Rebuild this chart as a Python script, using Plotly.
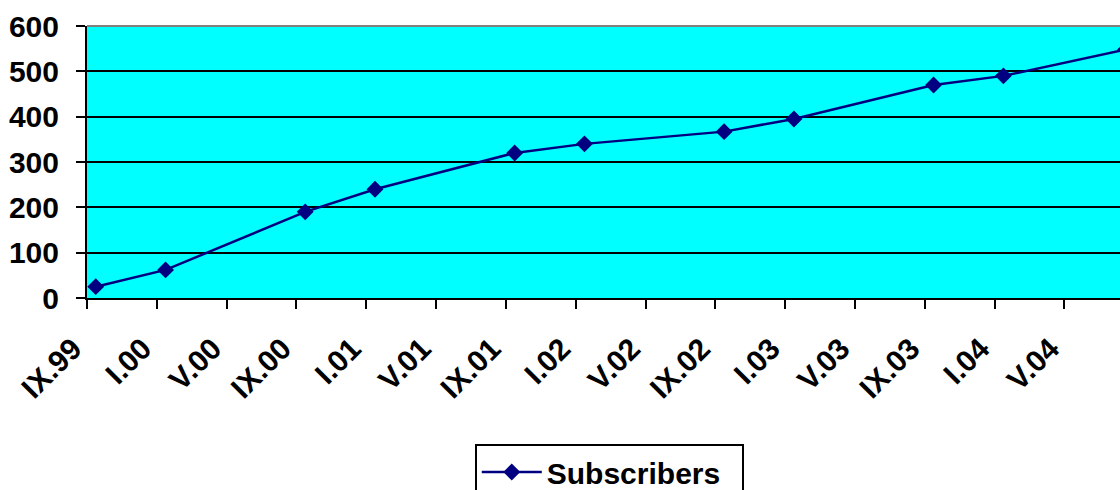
import pandas as pd
import plotly.graph_objects as go

# Subscriber counts, sampled at the listed months
sample_months = ["1999-09", "2000-01", "2000-09", "2001-01", "2001-09", "2002-01",
                 "2002-09", "2003-01", "2003-09", "2004-01", "2004-08"]
subscribers = [25, 62, 190, 240, 320, 340, 367, 395, 470, 490, 548]

# Category axis ticks every four months, Roman month + two-digit year
tick_months = ["1999-09", "2000-01", "2000-05", "2000-09", "2001-01", "2001-05",
               "2001-09", "2002-01", "2002-05", "2002-09", "2003-01", "2003-05",
               "2003-09", "2004-01", "2004-05"]
tick_labels = ["IX.99", "I.00", "V.00", "IX.00", "I.01", "V.01", "IX.01", "I.02",
               "V.02", "IX.02", "I.03", "V.03", "IX.03", "I.04", "V.04"]

origin = pd.Period(sample_months[0], freq="M")


def month_index(m):
    return (pd.Period(m, freq="M") - origin).n


# each month occupies one slot; values sit in the middle of their slot
x_vals = [month_index(m) + 0.5 for m in sample_months]
x_ticks = [month_index(m) for m in tick_months]

FONT = "Liberation Sans, Arial, sans-serif"
NAVY = "#000080"

fig = go.Figure(
    go.Scatter(
        x=x_vals,
        y=subscribers,
        mode="lines+markers",
        name="Subscribers",
        line=dict(color=NAVY, width=2.5),
        marker=dict(symbol="diamond", size=13, color=NAVY),
    )
)

fig.update_xaxes(
    range=[0, 59.18],
    tickmode="array",
    tickvals=x_ticks,
    ticktext=tick_labels,
    tickangle=-45,
    ticks="outside",
    ticklen=9,
    tickwidth=2,
    tickcolor="black",
    showline=True,
    linecolor="black",
    linewidth=2,
    showgrid=False,
    zeroline=False,
    tickfont=dict(family=FONT, size=30, color="black", weight="bold"),
    ticklabelstandoff=10,
    ticklabelshift=-14,
)
fig.update_yaxes(
    range=[0, 600],
    dtick=100,
    ticks="outside",
    ticklen=9,
    tickwidth=2,
    tickcolor="black",
    showline=True,
    linecolor="black",
    linewidth=2,
    showgrid=True,
    gridcolor="black",
    gridwidth=2,
    zeroline=False,
    tickfont=dict(family=FONT, size=30, color="black", weight="bold"),
    ticklabelstandoff=11,
)

# grey frame edge along the top of the plot area
fig.add_shape(type="line", xref="paper", yref="paper", x0=0, x1=1, y0=1, y1=1,
              line=dict(color="#808080", width=2))

fig.update_layout(
    width=1120,
    height=490,
    margin=dict(l=87, r=0, t=26, b=192),
    paper_bgcolor="white",
    plot_bgcolor="#00FFFF",
    showlegend=True,
    legend=dict(
        orientation="h",
        xref="container",
        yref="container",
        x=0.544,
        xanchor="center",
        y=1 - 444 / 490,
        yanchor="top",
        bordercolor="black",
        borderwidth=2,
        bgcolor="white",
        itemwidth=60,
        entrywidth=190,
        font=dict(family=FONT, size=30, color="black", weight="bold"),
    ),
)

fig.write_html("out.html")
